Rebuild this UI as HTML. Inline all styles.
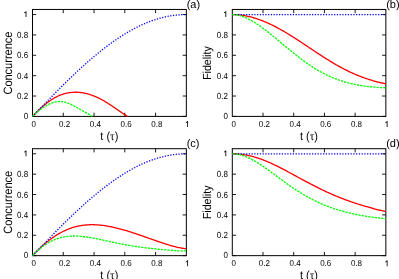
<!DOCTYPE html>
<html><head><meta charset="utf-8"><title>plot</title>
<style>
html,body{margin:0;padding:0;background:#fff;}
body{width:399px;height:279px;overflow:hidden;}
svg{display:block;text-rendering:geometricPrecision;will-change:transform;transform:translateZ(0);font-family:"Liberation Sans",sans-serif;fill:#000;}
</style></head><body>
<svg width="399" height="279" viewBox="0 0 399 279">
<rect x="0" y="0" width="399" height="279" fill="#fff"/>
<path d="M32.5,116.40 h3.7 M186.35,116.40 h-3.7 M63.27,116.4 v-3.7 M63.27,9.45 v3.7 M32.5,96.03 h3.7 M186.35,96.03 h-3.7 M94.04,116.4 v-3.7 M94.04,9.45 v3.7 M32.5,75.66 h3.7 M186.35,75.66 h-3.7 M124.81,116.4 v-3.7 M124.81,9.45 v3.7 M32.5,55.29 h3.7 M186.35,55.29 h-3.7 M155.58,116.4 v-3.7 M155.58,9.45 v3.7 M32.5,34.91 h3.7 M186.35,34.91 h-3.7 M32.5,14.54 h3.7 M186.35,14.54 h-3.7" fill="none" stroke="#000" stroke-width="0.9"/>
<rect x="32.5" y="9.45" width="153.85" height="106.95" fill="none" stroke="#000" stroke-width="1.0"/>
<path d="M32.50,116.40 L33.10,115.78 L33.70,115.16 L34.30,114.54 L34.90,113.93 L35.49,113.32 L36.09,112.71 L36.69,112.11 L37.29,111.52 L37.89,110.93 L38.49,110.34 L39.09,109.77 L39.69,109.20 L40.29,108.63 L40.89,108.08 L41.48,107.53 L42.08,106.99 L42.68,106.46 L43.28,105.93 L43.88,105.42 L44.48,104.91 L45.08,104.41 L45.68,103.92 L46.28,103.45 L46.87,102.98 L47.47,102.52 L48.07,102.07 L48.67,101.63 L49.27,101.20 L49.87,100.78 L50.47,100.37 L51.07,99.97 L51.67,99.58 L52.27,99.20 L52.86,98.83 L53.46,98.47 L54.06,98.13 L54.66,97.79 L55.26,97.46 L55.86,97.14 L56.46,96.84 L57.06,96.54 L57.66,96.25 L58.25,95.98 L58.85,95.71 L59.45,95.46 L60.05,95.21 L60.65,94.98 L61.25,94.75 L61.85,94.54 L62.45,94.33 L63.05,94.14 L63.65,93.95 L64.24,93.78 L64.84,93.61 L65.44,93.46 L66.04,93.31 L66.64,93.17 L67.24,93.05 L67.84,92.93 L68.44,92.82 L69.04,92.72 L69.63,92.63 L70.23,92.55 L70.83,92.48 L71.43,92.42 L72.03,92.36 L72.63,92.32 L73.23,92.28 L73.83,92.25 L74.43,92.23 L75.03,92.22 L75.62,92.22 L76.22,92.23 L76.82,92.24 L77.42,92.27 L78.02,92.30 L78.62,92.34 L79.22,92.39 L79.82,92.44 L80.42,92.51 L81.02,92.58 L81.61,92.66 L82.21,92.75 L82.81,92.84 L83.41,92.95 L84.01,93.06 L84.61,93.18 L85.21,93.30 L85.81,93.44 L86.41,93.58 L87.00,93.73 L87.60,93.89 L88.20,94.05 L88.80,94.22 L89.40,94.40 L90.00,94.59 L90.60,94.78 L91.20,94.99 L91.80,95.19 L92.40,95.41 L92.99,95.63 L93.59,95.86 L94.19,96.10 L94.79,96.34 L95.39,96.59 L95.99,96.85 L96.59,97.12 L97.19,97.39 L97.79,97.66 L98.38,97.95 L98.98,98.24 L99.58,98.54 L100.18,98.84 L100.78,99.15 L101.38,99.47 L101.98,99.79 L102.58,100.12 L103.18,100.45 L103.78,100.79 L104.37,101.14 L104.97,101.49 L105.57,101.84 L106.17,102.21 L106.77,102.57 L107.37,102.94 L107.97,103.32 L108.57,103.70 L109.17,104.09 L109.76,104.48 L110.36,104.87 L110.96,105.27 L111.56,105.67 L112.16,106.07 L112.76,106.48 L113.36,106.88 L113.96,107.30 L114.56,107.71 L115.16,108.12 L115.75,108.54 L116.35,108.96 L116.95,109.37 L117.55,109.79 L118.15,110.21 L118.75,110.63 L119.35,111.04 L119.95,111.46 L120.55,111.87 L121.14,112.28 L121.74,112.68 L122.34,113.08 L122.94,113.48 L123.54,113.87 L124.14,114.26 L124.74,114.64 L125.34,115.01 L125.94,115.38 L126.54,115.73 L127.13,116.08 L127.73,116.40" fill="none" stroke="#ff0000" stroke-width="1.3" stroke-linejoin="round"/>
<path d="M32.50,116.40 L33.27,115.60 L34.05,114.79 L34.82,113.99 L35.59,113.18 L36.37,112.38 L37.14,111.58 L37.91,110.77 L38.68,109.97 L39.46,109.17 L40.23,108.37 L41.00,107.57 L41.78,106.77 L42.55,105.97 L43.32,105.17 L44.10,104.37 L44.87,103.57 L45.64,102.77 L46.42,101.98 L47.19,101.18 L47.96,100.39 L48.74,99.59 L49.51,98.80 L50.28,98.01 L51.05,97.22 L51.83,96.43 L52.60,95.64 L53.37,94.86 L54.15,94.07 L54.92,93.29 L55.69,92.50 L56.47,91.72 L57.24,90.94 L58.01,90.17 L58.79,89.39 L59.56,88.62 L60.33,87.84 L61.11,87.07 L61.88,86.30 L62.65,85.54 L63.42,84.77 L64.20,84.01 L64.97,83.25 L65.74,82.49 L66.52,81.73 L67.29,80.98 L68.06,80.22 L68.84,79.47 L69.61,78.72 L70.38,77.98 L71.16,77.24 L71.93,76.49 L72.70,75.76 L73.48,75.02 L74.25,74.29 L75.02,73.56 L75.79,72.83 L76.57,72.10 L77.34,71.38 L78.11,70.66 L78.89,69.94 L79.66,69.23 L80.43,68.52 L81.21,67.81 L81.98,67.10 L82.75,66.40 L83.53,65.70 L84.30,65.01 L85.07,64.32 L85.84,63.63 L86.62,62.94 L87.39,62.26 L88.16,61.58 L88.94,60.90 L89.71,60.23 L90.48,59.56 L91.26,58.90 L92.03,58.23 L92.80,57.58 L93.58,56.92 L94.35,56.27 L95.12,55.62 L95.90,54.98 L96.67,54.34 L97.44,53.70 L98.21,53.07 L98.99,52.45 L99.76,51.82 L100.53,51.20 L101.31,50.59 L102.08,49.97 L102.85,49.37 L103.63,48.76 L104.40,48.16 L105.17,47.57 L105.95,46.98 L106.72,46.39 L107.49,45.81 L108.27,45.23 L109.04,44.66 L109.81,44.09 L110.58,43.53 L111.36,42.97 L112.13,42.41 L112.90,41.86 L113.68,41.32 L114.45,40.78 L115.22,40.24 L116.00,39.71 L116.77,39.18 L117.54,38.66 L118.32,38.14 L119.09,37.63 L119.86,37.12 L120.64,36.62 L121.41,36.12 L122.18,35.63 L122.95,35.14 L123.73,34.66 L124.50,34.19 L125.27,33.71 L126.05,33.25 L126.82,32.78 L127.59,32.33 L128.37,31.88 L129.14,31.43 L129.91,30.99 L130.69,30.55 L131.46,30.12 L132.23,29.70 L133.01,29.28 L133.78,28.87 L134.55,28.46 L135.32,28.06 L136.10,27.66 L136.87,27.27 L137.64,26.88 L138.42,26.50 L139.19,26.12 L139.96,25.75 L140.74,25.39 L141.51,25.03 L142.28,24.68 L143.06,24.33 L143.83,23.99 L144.60,23.66 L145.37,23.33 L146.15,23.00 L146.92,22.69 L147.69,22.37 L148.47,22.07 L149.24,21.77 L150.01,21.47 L150.79,21.18 L151.56,20.90 L152.33,20.62 L153.11,20.35 L153.88,20.09 L154.65,19.83 L155.43,19.58 L156.20,19.33 L156.97,19.09 L157.74,18.86 L158.52,18.63 L159.29,18.41 L160.06,18.19 L160.84,17.98 L161.61,17.77 L162.38,17.58 L163.16,17.39 L163.93,17.20 L164.70,17.02 L165.48,16.85 L166.25,16.68 L167.02,16.52 L167.80,16.37 L168.57,16.22 L169.34,16.07 L170.11,15.94 L170.89,15.81 L171.66,15.69 L172.43,15.57 L173.21,15.46 L173.98,15.35 L174.75,15.26 L175.53,15.16 L176.30,15.08 L177.07,15.00 L177.85,14.93 L178.62,14.86 L179.39,14.80 L180.17,14.75 L180.94,14.70 L181.71,14.66 L182.48,14.62 L183.26,14.59 L184.03,14.57 L184.80,14.56 L185.58,14.55 L186.35,14.54" fill="none" stroke="#0000ff" stroke-width="1.3" stroke-dasharray="1.25 1.5"/>
<path d="M32.50,116.40 L32.88,116.01 L33.25,115.63 L33.63,115.26 L34.01,114.90 L34.38,114.54 L34.76,114.19 L35.13,113.85 L35.51,113.51 L35.89,113.17 L36.26,112.84 L36.64,112.52 L37.02,112.20 L37.39,111.89 L37.77,111.58 L38.15,111.28 L38.52,110.98 L38.90,110.68 L39.28,110.39 L39.65,110.10 L40.03,109.81 L40.40,109.53 L40.78,109.26 L41.16,108.98 L41.53,108.71 L41.91,108.45 L42.29,108.19 L42.66,107.93 L43.04,107.67 L43.42,107.42 L43.79,107.18 L44.17,106.93 L44.54,106.69 L44.92,106.46 L45.30,106.23 L45.67,106.00 L46.05,105.78 L46.43,105.56 L46.80,105.35 L47.18,105.14 L47.56,104.94 L47.93,104.74 L48.31,104.55 L48.69,104.36 L49.06,104.17 L49.44,104.00 L49.81,103.82 L50.19,103.65 L50.57,103.49 L50.94,103.34 L51.32,103.19 L51.70,103.04 L52.07,102.90 L52.45,102.77 L52.83,102.65 L53.20,102.53 L53.58,102.41 L53.95,102.31 L54.33,102.20 L54.71,102.11 L55.08,102.02 L55.46,101.94 L55.84,101.87 L56.21,101.80 L56.59,101.74 L56.97,101.69 L57.34,101.65 L57.72,101.61 L58.10,101.57 L58.47,101.55 L58.85,101.53 L59.22,101.52 L59.60,101.52 L59.98,101.52 L60.35,101.53 L60.73,101.55 L61.11,101.58 L61.48,101.61 L61.86,101.65 L62.24,101.69 L62.61,101.74 L62.99,101.80 L63.36,101.87 L63.74,101.94 L64.12,102.02 L64.49,102.10 L64.87,102.19 L65.25,102.29 L65.62,102.39 L66.00,102.50 L66.38,102.62 L66.75,102.74 L67.13,102.87 L67.51,103.00 L67.88,103.14 L68.26,103.28 L68.63,103.42 L69.01,103.58 L69.39,103.73 L69.76,103.89 L70.14,104.06 L70.52,104.23 L70.89,104.40 L71.27,104.58 L71.65,104.76 L72.02,104.95 L72.40,105.13 L72.77,105.32 L73.15,105.52 L73.53,105.71 L73.90,105.91 L74.28,106.11 L74.66,106.32 L75.03,106.52 L75.41,106.73 L75.79,106.94 L76.16,107.15 L76.54,107.36 L76.92,107.57 L77.29,107.78 L77.67,107.99 L78.04,108.21 L78.42,108.42 L78.80,108.64 L79.17,108.85 L79.55,109.07 L79.93,109.28 L80.30,109.49 L80.68,109.71 L81.06,109.92 L81.43,110.14 L81.81,110.35 L82.18,110.56 L82.56,110.77 L82.94,110.98 L83.31,111.19 L83.69,111.40 L84.07,111.61 L84.44,111.82 L84.82,112.03 L85.20,112.24 L85.57,112.44 L85.95,112.65 L86.33,112.86 L86.70,113.07 L87.08,113.28 L87.45,113.48 L87.83,113.69 L88.21,113.90 L88.58,114.12 L88.96,114.33 L89.34,114.55 L89.71,114.76 L90.09,114.99 L90.47,115.21 L90.84,115.44 L91.22,115.67 L91.59,115.91 L91.97,116.16 L92.35,116.40" fill="none" stroke="#00ff00" stroke-width="1.3" stroke-dasharray="2.3 1.0"/>
<text transform="translate(28.10,119.10) scale(1,1.1)" text-anchor="end" font-size="8.0">0</text>
<text transform="translate(33.80,127.10) scale(1,1.075)" text-anchor="middle" font-size="8.0">0</text>
<text transform="translate(28.10,99.13) scale(1,1.1)" text-anchor="end" font-size="8.0">0.2</text>
<text transform="translate(64.57,127.10) scale(1,1.075)" text-anchor="middle" font-size="8.0">0.2</text>
<text transform="translate(28.10,78.76) scale(1,1.1)" text-anchor="end" font-size="8.0">0.4</text>
<text transform="translate(95.34,127.10) scale(1,1.075)" text-anchor="middle" font-size="8.0">0.4</text>
<text transform="translate(28.10,58.39) scale(1,1.1)" text-anchor="end" font-size="8.0">0.6</text>
<text transform="translate(126.11,127.10) scale(1,1.075)" text-anchor="middle" font-size="8.0">0.6</text>
<text transform="translate(28.10,38.01) scale(1,1.1)" text-anchor="end" font-size="8.0">0.8</text>
<text transform="translate(156.88,127.10) scale(1,1.075)" text-anchor="middle" font-size="8.0">0.8</text>
<path d="M26.45,16.89 L26.45,11.19 L25.75,11.19 Q25.30,12.19 24.15,12.54 L24.15,13.24 Q25.10,12.99 25.60,12.39 L25.60,16.89 Z" fill="#000"/>
<path d="M188.05,127.10 L188.05,121.10 L187.35,121.10 Q186.90,122.10 185.75,122.45 L185.75,123.15 Q186.70,122.90 187.20,122.30 L187.20,127.10 Z" fill="#000"/>
<text transform="translate(11.80,63.08) rotate(-90) scale(1,1.1)" text-anchor="middle" font-size="11">Concurrence</text>
<text transform="translate(109.33,139.70) scale(1,1.06)" text-anchor="middle" font-size="11.0">t (<tspan font-family="Liberation Serif" font-size="11.5">&#964;</tspan>)</text>
<text transform="translate(186.65,7.50) scale(1,1.0)" text-anchor="start" font-size="11.0">(a)</text>
<path d="M232.3,116.40 h3.7 M385.85,116.40 h-3.7 M263.01,116.4 v-3.7 M263.01,9.45 v3.7 M232.3,96.03 h3.7 M385.85,96.03 h-3.7 M293.72,116.4 v-3.7 M293.72,9.45 v3.7 M232.3,75.66 h3.7 M385.85,75.66 h-3.7 M324.43,116.4 v-3.7 M324.43,9.45 v3.7 M232.3,55.29 h3.7 M385.85,55.29 h-3.7 M355.14,116.4 v-3.7 M355.14,9.45 v3.7 M232.3,34.91 h3.7 M385.85,34.91 h-3.7 M232.3,14.54 h3.7 M385.85,14.54 h-3.7" fill="none" stroke="#000" stroke-width="0.9"/>
<rect x="232.3" y="9.45" width="153.55" height="106.95" fill="none" stroke="#000" stroke-width="1.0"/>
<path d="M232.30,14.54 L233.27,14.55 L234.23,14.57 L235.20,14.61 L236.16,14.66 L237.13,14.72 L238.09,14.80 L239.06,14.89 L240.03,14.99 L240.99,15.10 L241.96,15.23 L242.92,15.38 L243.89,15.53 L244.85,15.70 L245.82,15.88 L246.79,16.07 L247.75,16.28 L248.72,16.49 L249.68,16.72 L250.65,16.96 L251.61,17.21 L252.58,17.48 L253.55,17.75 L254.51,18.04 L255.48,18.34 L256.44,18.65 L257.41,18.96 L258.37,19.30 L259.34,19.64 L260.31,19.99 L261.27,20.35 L262.24,20.72 L263.20,21.10 L264.17,21.49 L265.13,21.89 L266.10,22.31 L267.07,22.73 L268.03,23.16 L269.00,23.60 L269.96,24.04 L270.93,24.50 L271.89,24.97 L272.86,25.44 L273.83,25.92 L274.79,26.41 L275.76,26.91 L276.72,27.42 L277.69,27.93 L278.65,28.45 L279.62,28.98 L280.59,29.52 L281.55,30.06 L282.52,30.61 L283.48,31.17 L284.45,31.73 L285.41,32.30 L286.38,32.87 L287.35,33.45 L288.31,34.04 L289.28,34.63 L290.24,35.23 L291.21,35.83 L292.17,36.43 L293.14,37.04 L294.11,37.66 L295.07,38.28 L296.04,38.90 L297.00,39.52 L297.97,40.15 L298.93,40.78 L299.90,41.41 L300.87,42.05 L301.83,42.69 L302.80,43.33 L303.76,43.97 L304.73,44.62 L305.69,45.26 L306.66,45.91 L307.63,46.55 L308.59,47.20 L309.56,47.84 L310.52,48.49 L311.49,49.14 L312.46,49.78 L313.42,50.43 L314.39,51.07 L315.35,51.71 L316.32,52.35 L317.28,52.99 L318.25,53.63 L319.22,54.26 L320.18,54.89 L321.15,55.52 L322.11,56.15 L323.08,56.77 L324.04,57.39 L325.01,58.00 L325.98,58.61 L326.94,59.22 L327.91,59.82 L328.87,60.42 L329.84,61.01 L330.80,61.60 L331.77,62.18 L332.74,62.76 L333.70,63.33 L334.67,63.89 L335.63,64.45 L336.60,65.01 L337.56,65.55 L338.53,66.10 L339.50,66.63 L340.46,67.16 L341.43,67.68 L342.39,68.20 L343.36,68.70 L344.32,69.21 L345.29,69.70 L346.26,70.19 L347.22,70.67 L348.19,71.14 L349.15,71.60 L350.12,72.06 L351.08,72.51 L352.05,72.95 L353.02,73.39 L353.98,73.82 L354.95,74.24 L355.91,74.65 L356.88,75.05 L357.84,75.45 L358.81,75.84 L359.78,76.22 L360.74,76.59 L361.71,76.96 L362.67,77.32 L363.64,77.67 L364.60,78.01 L365.57,78.35 L366.54,78.68 L367.50,79.00 L368.47,79.32 L369.43,79.62 L370.40,79.92 L371.36,80.22 L372.33,80.50 L373.30,80.78 L374.26,81.06 L375.23,81.32 L376.19,81.58 L377.16,81.83 L378.12,82.08 L379.09,82.32 L380.06,82.55 L381.02,82.78 L381.99,83.00 L382.95,83.21 L383.92,83.42 L384.88,83.63 L385.85,83.82" fill="none" stroke="#ff0000" stroke-width="1.3" stroke-linejoin="round"/>
<path d="M232.30,14.54 L233.07,14.54 L233.84,14.54 L234.61,14.54 L235.39,14.54 L236.16,14.54 L236.93,14.54 L237.70,14.54 L238.47,14.54 L239.24,14.54 L240.02,14.54 L240.79,14.54 L241.56,14.54 L242.33,14.54 L243.10,14.54 L243.87,14.54 L244.65,14.54 L245.42,14.54 L246.19,14.54 L246.96,14.54 L247.73,14.54 L248.50,14.54 L249.28,14.54 L250.05,14.54 L250.82,14.54 L251.59,14.54 L252.36,14.54 L253.13,14.54 L253.91,14.54 L254.68,14.54 L255.45,14.54 L256.22,14.54 L256.99,14.54 L257.76,14.54 L258.53,14.54 L259.31,14.54 L260.08,14.54 L260.85,14.54 L261.62,14.54 L262.39,14.54 L263.16,14.54 L263.94,14.54 L264.71,14.54 L265.48,14.54 L266.25,14.54 L267.02,14.54 L267.79,14.54 L268.57,14.54 L269.34,14.54 L270.11,14.54 L270.88,14.54 L271.65,14.54 L272.42,14.54 L273.20,14.54 L273.97,14.54 L274.74,14.54 L275.51,14.54 L276.28,14.54 L277.05,14.54 L277.82,14.54 L278.60,14.54 L279.37,14.54 L280.14,14.54 L280.91,14.54 L281.68,14.54 L282.45,14.54 L283.23,14.54 L284.00,14.54 L284.77,14.54 L285.54,14.54 L286.31,14.54 L287.08,14.54 L287.86,14.54 L288.63,14.54 L289.40,14.54 L290.17,14.54 L290.94,14.54 L291.71,14.54 L292.49,14.54 L293.26,14.54 L294.03,14.54 L294.80,14.54 L295.57,14.54 L296.34,14.54 L297.12,14.54 L297.89,14.54 L298.66,14.54 L299.43,14.54 L300.20,14.54 L300.97,14.54 L301.74,14.54 L302.52,14.54 L303.29,14.54 L304.06,14.54 L304.83,14.54 L305.60,14.54 L306.37,14.54 L307.15,14.54 L307.92,14.54 L308.69,14.54 L309.46,14.54 L310.23,14.54 L311.00,14.54 L311.78,14.54 L312.55,14.54 L313.32,14.54 L314.09,14.54 L314.86,14.54 L315.63,14.54 L316.41,14.54 L317.18,14.54 L317.95,14.54 L318.72,14.54 L319.49,14.54 L320.26,14.54 L321.03,14.54 L321.81,14.54 L322.58,14.54 L323.35,14.54 L324.12,14.54 L324.89,14.54 L325.66,14.54 L326.44,14.54 L327.21,14.54 L327.98,14.54 L328.75,14.54 L329.52,14.54 L330.29,14.54 L331.07,14.54 L331.84,14.54 L332.61,14.54 L333.38,14.54 L334.15,14.54 L334.92,14.54 L335.70,14.54 L336.47,14.54 L337.24,14.54 L338.01,14.54 L338.78,14.54 L339.55,14.54 L340.33,14.54 L341.10,14.54 L341.87,14.54 L342.64,14.54 L343.41,14.54 L344.18,14.54 L344.95,14.54 L345.73,14.54 L346.50,14.54 L347.27,14.54 L348.04,14.54 L348.81,14.54 L349.58,14.54 L350.36,14.54 L351.13,14.54 L351.90,14.54 L352.67,14.54 L353.44,14.54 L354.21,14.54 L354.99,14.54 L355.76,14.54 L356.53,14.54 L357.30,14.54 L358.07,14.54 L358.84,14.54 L359.62,14.54 L360.39,14.54 L361.16,14.54 L361.93,14.54 L362.70,14.54 L363.47,14.54 L364.24,14.54 L365.02,14.54 L365.79,14.54 L366.56,14.54 L367.33,14.54 L368.10,14.54 L368.87,14.54 L369.65,14.54 L370.42,14.54 L371.19,14.54 L371.96,14.54 L372.73,14.54 L373.50,14.54 L374.28,14.54 L375.05,14.54 L375.82,14.54 L376.59,14.54 L377.36,14.54 L378.13,14.54 L378.91,14.54 L379.68,14.54 L380.45,14.54 L381.22,14.54 L381.99,14.54 L382.76,14.54 L383.54,14.54 L384.31,14.54 L385.08,14.54 L385.85,14.54" fill="none" stroke="#0000ff" stroke-width="1.3" stroke-dasharray="1.25 1.5"/>
<path d="M232.30,14.54 L233.27,14.56 L234.23,14.62 L235.20,14.70 L236.16,14.83 L237.13,14.99 L238.09,15.17 L239.06,15.39 L240.03,15.64 L240.99,15.92 L241.96,16.23 L242.92,16.57 L243.89,16.93 L244.85,17.32 L245.82,17.73 L246.79,18.17 L247.75,18.63 L248.72,19.11 L249.68,19.61 L250.65,20.13 L251.61,20.67 L252.58,21.23 L253.55,21.81 L254.51,22.41 L255.48,23.02 L256.44,23.64 L257.41,24.29 L258.37,24.94 L259.34,25.61 L260.31,26.29 L261.27,26.98 L262.24,27.69 L263.20,28.40 L264.17,29.12 L265.13,29.86 L266.10,30.60 L267.07,31.35 L268.03,32.11 L269.00,32.87 L269.96,33.64 L270.93,34.42 L271.89,35.20 L272.86,35.99 L273.83,36.78 L274.79,37.57 L275.76,38.37 L276.72,39.17 L277.69,39.97 L278.65,40.77 L279.62,41.58 L280.59,42.38 L281.55,43.19 L282.52,43.99 L283.48,44.80 L284.45,45.60 L285.41,46.41 L286.38,47.21 L287.35,48.01 L288.31,48.80 L289.28,49.59 L290.24,50.38 L291.21,51.17 L292.17,51.95 L293.14,52.73 L294.11,53.50 L295.07,54.27 L296.04,55.03 L297.00,55.79 L297.97,56.54 L298.93,57.28 L299.90,58.02 L300.87,58.75 L301.83,59.48 L302.80,60.19 L303.76,60.90 L304.73,61.60 L305.69,62.29 L306.66,62.97 L307.63,63.65 L308.59,64.31 L309.56,64.97 L310.52,65.62 L311.49,66.26 L312.46,66.88 L313.42,67.50 L314.39,68.11 L315.35,68.71 L316.32,69.30 L317.28,69.88 L318.25,70.44 L319.22,71.00 L320.18,71.55 L321.15,72.08 L322.11,72.61 L323.08,73.12 L324.04,73.63 L325.01,74.12 L325.98,74.60 L326.94,75.08 L327.91,75.54 L328.87,75.99 L329.84,76.43 L330.80,76.86 L331.77,77.28 L332.74,77.69 L333.70,78.08 L334.67,78.47 L335.63,78.85 L336.60,79.22 L337.56,79.57 L338.53,79.92 L339.50,80.26 L340.46,80.59 L341.43,80.91 L342.39,81.21 L343.36,81.51 L344.32,81.81 L345.29,82.09 L346.26,82.36 L347.22,82.62 L348.19,82.88 L349.15,83.13 L350.12,83.37 L351.08,83.60 L352.05,83.82 L353.02,84.03 L353.98,84.24 L354.95,84.44 L355.91,84.63 L356.88,84.82 L357.84,85.00 L358.81,85.17 L359.78,85.34 L360.74,85.50 L361.71,85.65 L362.67,85.80 L363.64,85.94 L364.60,86.07 L365.57,86.20 L366.54,86.32 L367.50,86.44 L368.47,86.55 L369.43,86.66 L370.40,86.76 L371.36,86.86 L372.33,86.95 L373.30,87.04 L374.26,87.13 L375.23,87.20 L376.19,87.28 L377.16,87.35 L378.12,87.41 L379.09,87.47 L380.06,87.53 L381.02,87.58 L381.99,87.63 L382.95,87.68 L383.92,87.72 L384.88,87.75 L385.85,87.79" fill="none" stroke="#00ff00" stroke-width="1.3" stroke-dasharray="2.3 1.0"/>
<text transform="translate(227.90,119.10) scale(1,1.1)" text-anchor="end" font-size="8.0">0</text>
<text transform="translate(233.60,127.10) scale(1,1.075)" text-anchor="middle" font-size="8.0">0</text>
<text transform="translate(227.90,99.13) scale(1,1.1)" text-anchor="end" font-size="8.0">0.2</text>
<text transform="translate(264.31,127.10) scale(1,1.075)" text-anchor="middle" font-size="8.0">0.2</text>
<text transform="translate(227.90,78.76) scale(1,1.1)" text-anchor="end" font-size="8.0">0.4</text>
<text transform="translate(295.02,127.10) scale(1,1.075)" text-anchor="middle" font-size="8.0">0.4</text>
<text transform="translate(227.90,58.39) scale(1,1.1)" text-anchor="end" font-size="8.0">0.6</text>
<text transform="translate(325.73,127.10) scale(1,1.075)" text-anchor="middle" font-size="8.0">0.6</text>
<text transform="translate(227.90,38.01) scale(1,1.1)" text-anchor="end" font-size="8.0">0.8</text>
<text transform="translate(356.44,127.10) scale(1,1.075)" text-anchor="middle" font-size="8.0">0.8</text>
<path d="M226.25,16.89 L226.25,11.19 L225.55,11.19 Q225.10,12.19 223.95,12.54 L223.95,13.24 Q224.90,12.99 225.40,12.39 L225.40,16.89 Z" fill="#000"/>
<path d="M387.55,127.10 L387.55,121.10 L386.85,121.10 Q386.40,122.10 385.25,122.45 L385.25,123.15 Q386.20,122.90 386.70,122.30 L386.70,127.10 Z" fill="#000"/>
<text transform="translate(211.40,63.08) rotate(-90) scale(1,1.1)" text-anchor="middle" font-size="10.6">Fidelity</text>
<text transform="translate(308.98,139.70) scale(1,1.06)" text-anchor="middle" font-size="11.0">t (<tspan font-family="Liberation Serif" font-size="11.5">&#964;</tspan>)</text>
<text transform="translate(386.15,7.50) scale(1,1.0)" text-anchor="start" font-size="11.0">(b)</text>
<path d="M32.5,255.65 h3.7 M186.35,255.65 h-3.7 M63.27,255.65 v-3.7 M63.27,148.7 v3.7 M32.5,235.28 h3.7 M186.35,235.28 h-3.7 M94.04,255.65 v-3.7 M94.04,148.7 v3.7 M32.5,214.91 h3.7 M186.35,214.91 h-3.7 M124.81,255.65 v-3.7 M124.81,148.7 v3.7 M32.5,194.54 h3.7 M186.35,194.54 h-3.7 M155.58,255.65 v-3.7 M155.58,148.7 v3.7 M32.5,174.16 h3.7 M186.35,174.16 h-3.7 M32.5,153.79 h3.7 M186.35,153.79 h-3.7" fill="none" stroke="#000" stroke-width="0.9"/>
<rect x="32.5" y="148.7" width="153.85" height="106.95" fill="none" stroke="#000" stroke-width="1.0"/>
<path d="M32.50,255.65 L33.47,254.65 L34.44,253.66 L35.40,252.68 L36.37,251.71 L37.34,250.76 L38.31,249.82 L39.27,248.89 L40.24,247.98 L41.21,247.09 L42.18,246.21 L43.14,245.34 L44.11,244.49 L45.08,243.66 L46.05,242.84 L47.01,242.05 L47.98,241.26 L48.95,240.50 L49.92,239.76 L50.88,239.03 L51.85,238.32 L52.82,237.63 L53.79,236.96 L54.76,236.31 L55.72,235.67 L56.69,235.06 L57.66,234.46 L58.63,233.88 L59.59,233.32 L60.56,232.78 L61.53,232.26 L62.50,231.76 L63.46,231.27 L64.43,230.81 L65.40,230.36 L66.37,229.93 L67.33,229.52 L68.30,229.13 L69.27,228.76 L70.24,228.40 L71.20,228.06 L72.17,227.74 L73.14,227.44 L74.11,227.16 L75.07,226.89 L76.04,226.63 L77.01,226.40 L77.98,226.18 L78.95,225.98 L79.91,225.79 L80.88,225.62 L81.85,225.47 L82.82,225.33 L83.78,225.20 L84.75,225.09 L85.72,224.99 L86.69,224.91 L87.65,224.85 L88.62,224.79 L89.59,224.75 L90.56,224.72 L91.52,224.71 L92.49,224.71 L93.46,224.72 L94.43,224.74 L95.39,224.78 L96.36,224.83 L97.33,224.88 L98.30,224.95 L99.27,225.03 L100.23,225.12 L101.20,225.23 L102.17,225.34 L103.14,225.46 L104.10,225.59 L105.07,225.73 L106.04,225.88 L107.01,226.04 L107.97,226.20 L108.94,226.38 L109.91,226.56 L110.88,226.75 L111.84,226.95 L112.81,227.16 L113.78,227.37 L114.75,227.59 L115.71,227.82 L116.68,228.05 L117.65,228.29 L118.62,228.54 L119.58,228.79 L120.55,229.05 L121.52,229.31 L122.49,229.58 L123.46,229.85 L124.42,230.13 L125.39,230.41 L126.36,230.70 L127.33,230.99 L128.29,231.29 L129.26,231.59 L130.23,231.89 L131.20,232.20 L132.16,232.51 L133.13,232.82 L134.10,233.14 L135.07,233.46 L136.03,233.78 L137.00,234.11 L137.97,234.44 L138.94,234.77 L139.90,235.10 L140.87,235.43 L141.84,235.77 L142.81,236.11 L143.78,236.44 L144.74,236.78 L145.71,237.12 L146.68,237.46 L147.65,237.81 L148.61,238.15 L149.58,238.49 L150.55,238.83 L151.52,239.17 L152.48,239.51 L153.45,239.85 L154.42,240.19 L155.39,240.53 L156.35,240.87 L157.32,241.20 L158.29,241.54 L159.26,241.87 L160.22,242.20 L161.19,242.52 L162.16,242.85 L163.13,243.17 L164.09,243.48 L165.06,243.80 L166.03,244.10 L167.00,244.41 L167.97,244.70 L168.93,245.00 L169.90,245.28 L170.87,245.56 L171.84,245.84 L172.80,246.10 L173.77,246.36 L174.74,246.61 L175.71,246.86 L176.67,247.09 L177.64,247.31 L178.61,247.52 L179.58,247.73 L180.54,247.92 L181.51,248.10 L182.48,248.26 L183.45,248.41 L184.41,248.55 L185.38,248.68 L186.35,248.78" fill="none" stroke="#ff0000" stroke-width="1.3" stroke-linejoin="round"/>
<path d="M32.50,255.65 L33.27,254.85 L34.05,254.04 L34.82,253.24 L35.59,252.43 L36.37,251.63 L37.14,250.83 L37.91,250.02 L38.68,249.22 L39.46,248.42 L40.23,247.62 L41.00,246.82 L41.78,246.02 L42.55,245.22 L43.32,244.42 L44.10,243.62 L44.87,242.82 L45.64,242.02 L46.42,241.23 L47.19,240.43 L47.96,239.64 L48.74,238.84 L49.51,238.05 L50.28,237.26 L51.05,236.47 L51.83,235.68 L52.60,234.89 L53.37,234.11 L54.15,233.32 L54.92,232.54 L55.69,231.75 L56.47,230.97 L57.24,230.19 L58.01,229.42 L58.79,228.64 L59.56,227.87 L60.33,227.09 L61.11,226.32 L61.88,225.55 L62.65,224.79 L63.42,224.02 L64.20,223.26 L64.97,222.50 L65.74,221.74 L66.52,220.98 L67.29,220.23 L68.06,219.47 L68.84,218.72 L69.61,217.97 L70.38,217.23 L71.16,216.49 L71.93,215.74 L72.70,215.01 L73.48,214.27 L74.25,213.54 L75.02,212.81 L75.79,212.08 L76.57,211.35 L77.34,210.63 L78.11,209.91 L78.89,209.19 L79.66,208.48 L80.43,207.77 L81.21,207.06 L81.98,206.35 L82.75,205.65 L83.53,204.95 L84.30,204.26 L85.07,203.57 L85.84,202.88 L86.62,202.19 L87.39,201.51 L88.16,200.83 L88.94,200.15 L89.71,199.48 L90.48,198.81 L91.26,198.15 L92.03,197.48 L92.80,196.83 L93.58,196.17 L94.35,195.52 L95.12,194.87 L95.90,194.23 L96.67,193.59 L97.44,192.95 L98.21,192.32 L98.99,191.70 L99.76,191.07 L100.53,190.45 L101.31,189.84 L102.08,189.22 L102.85,188.62 L103.63,188.01 L104.40,187.41 L105.17,186.82 L105.95,186.23 L106.72,185.64 L107.49,185.06 L108.27,184.48 L109.04,183.91 L109.81,183.34 L110.58,182.78 L111.36,182.22 L112.13,181.66 L112.90,181.11 L113.68,180.57 L114.45,180.03 L115.22,179.49 L116.00,178.96 L116.77,178.43 L117.54,177.91 L118.32,177.39 L119.09,176.88 L119.86,176.37 L120.64,175.87 L121.41,175.37 L122.18,174.88 L122.95,174.39 L123.73,173.91 L124.50,173.44 L125.27,172.96 L126.05,172.50 L126.82,172.03 L127.59,171.58 L128.37,171.13 L129.14,170.68 L129.91,170.24 L130.69,169.80 L131.46,169.37 L132.23,168.95 L133.01,168.53 L133.78,168.12 L134.55,167.71 L135.32,167.31 L136.10,166.91 L136.87,166.52 L137.64,166.13 L138.42,165.75 L139.19,165.37 L139.96,165.00 L140.74,164.64 L141.51,164.28 L142.28,163.93 L143.06,163.58 L143.83,163.24 L144.60,162.91 L145.37,162.58 L146.15,162.25 L146.92,161.94 L147.69,161.62 L148.47,161.32 L149.24,161.02 L150.01,160.72 L150.79,160.43 L151.56,160.15 L152.33,159.87 L153.11,159.60 L153.88,159.34 L154.65,159.08 L155.43,158.83 L156.20,158.58 L156.97,158.34 L157.74,158.11 L158.52,157.88 L159.29,157.66 L160.06,157.44 L160.84,157.23 L161.61,157.02 L162.38,156.83 L163.16,156.64 L163.93,156.45 L164.70,156.27 L165.48,156.10 L166.25,155.93 L167.02,155.77 L167.80,155.62 L168.57,155.47 L169.34,155.32 L170.11,155.19 L170.89,155.06 L171.66,154.94 L172.43,154.82 L173.21,154.71 L173.98,154.60 L174.75,154.51 L175.53,154.41 L176.30,154.33 L177.07,154.25 L177.85,154.18 L178.62,154.11 L179.39,154.05 L180.17,154.00 L180.94,153.95 L181.71,153.91 L182.48,153.87 L183.26,153.84 L184.03,153.82 L184.80,153.81 L185.58,153.80 L186.35,153.79" fill="none" stroke="#0000ff" stroke-width="1.3" stroke-dasharray="1.25 1.5"/>
<path d="M32.50,255.65 L33.47,254.66 L34.44,253.69 L35.40,252.75 L36.37,251.84 L37.34,250.95 L38.31,250.10 L39.27,249.27 L40.24,248.46 L41.21,247.69 L42.18,246.94 L43.14,246.22 L44.11,245.53 L45.08,244.86 L46.05,244.22 L47.01,243.61 L47.98,243.03 L48.95,242.47 L49.92,241.94 L50.88,241.43 L51.85,240.95 L52.82,240.49 L53.79,240.06 L54.76,239.65 L55.72,239.27 L56.69,238.91 L57.66,238.58 L58.63,238.27 L59.59,237.98 L60.56,237.71 L61.53,237.46 L62.50,237.24 L63.46,237.03 L64.43,236.85 L65.40,236.69 L66.37,236.54 L67.33,236.42 L68.30,236.31 L69.27,236.22 L70.24,236.14 L71.20,236.09 L72.17,236.04 L73.14,236.02 L74.11,236.01 L75.07,236.01 L76.04,236.03 L77.01,236.06 L77.98,236.11 L78.95,236.16 L79.91,236.23 L80.88,236.31 L81.85,236.40 L82.82,236.50 L83.78,236.61 L84.75,236.73 L85.72,236.86 L86.69,236.99 L87.65,237.14 L88.62,237.29 L89.59,237.45 L90.56,237.61 L91.52,237.78 L92.49,237.96 L93.46,238.14 L94.43,238.33 L95.39,238.51 L96.36,238.71 L97.33,238.91 L98.30,239.11 L99.27,239.31 L100.23,239.51 L101.20,239.72 L102.17,239.93 L103.14,240.14 L104.10,240.35 L105.07,240.56 L106.04,240.77 L107.01,240.98 L107.97,241.19 L108.94,241.40 L109.91,241.62 L110.88,241.82 L111.84,242.03 L112.81,242.24 L113.78,242.45 L114.75,242.65 L115.71,242.85 L116.68,243.05 L117.65,243.25 L118.62,243.44 L119.58,243.64 L120.55,243.83 L121.52,244.02 L122.49,244.20 L123.46,244.38 L124.42,244.56 L125.39,244.74 L126.36,244.92 L127.33,245.09 L128.29,245.25 L129.26,245.42 L130.23,245.58 L131.20,245.74 L132.16,245.90 L133.13,246.05 L134.10,246.20 L135.07,246.35 L136.03,246.49 L137.00,246.63 L137.97,246.77 L138.94,246.91 L139.90,247.04 L140.87,247.17 L141.84,247.30 L142.81,247.43 L143.78,247.55 L144.74,247.67 L145.71,247.79 L146.68,247.91 L147.65,248.02 L148.61,248.14 L149.58,248.25 L150.55,248.36 L151.52,248.47 L152.48,248.57 L153.45,248.68 L154.42,248.78 L155.39,248.88 L156.35,248.98 L157.32,249.08 L158.29,249.18 L159.26,249.27 L160.22,249.37 L161.19,249.46 L162.16,249.55 L163.13,249.64 L164.09,249.73 L165.06,249.82 L166.03,249.90 L167.00,249.99 L167.97,250.07 L168.93,250.15 L169.90,250.23 L170.87,250.30 L171.84,250.37 L172.80,250.45 L173.77,250.51 L174.74,250.58 L175.71,250.64 L176.67,250.70 L177.64,250.75 L178.61,250.80 L179.58,250.84 L180.54,250.88 L181.51,250.91 L182.48,250.94 L183.45,250.95 L184.41,250.97 L185.38,250.97 L186.35,250.96" fill="none" stroke="#00ff00" stroke-width="1.3" stroke-dasharray="2.3 1.0"/>
<text transform="translate(28.10,258.35) scale(1,1.1)" text-anchor="end" font-size="8.0">0</text>
<text transform="translate(33.80,266.35) scale(1,1.075)" text-anchor="middle" font-size="8.0">0</text>
<text transform="translate(28.10,238.38) scale(1,1.1)" text-anchor="end" font-size="8.0">0.2</text>
<text transform="translate(64.57,266.35) scale(1,1.075)" text-anchor="middle" font-size="8.0">0.2</text>
<text transform="translate(28.10,218.01) scale(1,1.1)" text-anchor="end" font-size="8.0">0.4</text>
<text transform="translate(95.34,266.35) scale(1,1.075)" text-anchor="middle" font-size="8.0">0.4</text>
<text transform="translate(28.10,197.64) scale(1,1.1)" text-anchor="end" font-size="8.0">0.6</text>
<text transform="translate(126.11,266.35) scale(1,1.075)" text-anchor="middle" font-size="8.0">0.6</text>
<text transform="translate(28.10,177.26) scale(1,1.1)" text-anchor="end" font-size="8.0">0.8</text>
<text transform="translate(156.88,266.35) scale(1,1.075)" text-anchor="middle" font-size="8.0">0.8</text>
<path d="M26.45,156.14 L26.45,150.44 L25.75,150.44 Q25.30,151.44 24.15,151.79 L24.15,152.49 Q25.10,152.24 25.60,151.64 L25.60,156.14 Z" fill="#000"/>
<path d="M188.05,266.35 L188.05,260.35 L187.35,260.35 Q186.90,261.35 185.75,261.70 L185.75,262.40 Q186.70,262.15 187.20,261.55 L187.20,266.35 Z" fill="#000"/>
<text transform="translate(11.80,202.33) rotate(-90) scale(1,1.1)" text-anchor="middle" font-size="11">Concurrence</text>
<text transform="translate(109.33,278.95) scale(1,1.06)" text-anchor="middle" font-size="11.0">t (<tspan font-family="Liberation Serif" font-size="11.5">&#964;</tspan>)</text>
<text transform="translate(186.65,146.75) scale(1,1.0)" text-anchor="start" font-size="11.0">(c)</text>
<path d="M232.3,255.65 h3.7 M385.85,255.65 h-3.7 M263.01,255.65 v-3.7 M263.01,148.7 v3.7 M232.3,235.28 h3.7 M385.85,235.28 h-3.7 M293.72,255.65 v-3.7 M293.72,148.7 v3.7 M232.3,214.91 h3.7 M385.85,214.91 h-3.7 M324.43,255.65 v-3.7 M324.43,148.7 v3.7 M232.3,194.54 h3.7 M385.85,194.54 h-3.7 M355.14,255.65 v-3.7 M355.14,148.7 v3.7 M232.3,174.16 h3.7 M385.85,174.16 h-3.7 M232.3,153.79 h3.7 M385.85,153.79 h-3.7" fill="none" stroke="#000" stroke-width="0.9"/>
<rect x="232.3" y="148.7" width="153.55" height="106.95" fill="none" stroke="#000" stroke-width="1.0"/>
<path d="M232.30,153.79 L233.27,153.80 L234.23,153.82 L235.20,153.85 L236.16,153.89 L237.13,153.94 L238.09,154.01 L239.06,154.09 L240.03,154.18 L240.99,154.28 L241.96,154.40 L242.92,154.52 L243.89,154.66 L244.85,154.82 L245.82,154.98 L246.79,155.16 L247.75,155.35 L248.72,155.55 L249.68,155.77 L250.65,155.99 L251.61,156.23 L252.58,156.48 L253.55,156.74 L254.51,157.01 L255.48,157.30 L256.44,157.59 L257.41,157.90 L258.37,158.21 L259.34,158.54 L260.31,158.88 L261.27,159.22 L262.24,159.58 L263.20,159.95 L264.17,160.32 L265.13,160.71 L266.10,161.10 L267.07,161.50 L268.03,161.91 L269.00,162.33 L269.96,162.76 L270.93,163.19 L271.89,163.63 L272.86,164.08 L273.83,164.54 L274.79,165.00 L275.76,165.46 L276.72,165.94 L277.69,166.41 L278.65,166.90 L279.62,167.39 L280.59,167.88 L281.55,168.38 L282.52,168.88 L283.48,169.38 L284.45,169.89 L285.41,170.40 L286.38,170.91 L287.35,171.43 L288.31,171.95 L289.28,172.47 L290.24,172.99 L291.21,173.52 L292.17,174.04 L293.14,174.57 L294.11,175.09 L295.07,175.62 L296.04,176.15 L297.00,176.68 L297.97,177.20 L298.93,177.73 L299.90,178.26 L300.87,178.78 L301.83,179.31 L302.80,179.83 L303.76,180.35 L304.73,180.87 L305.69,181.39 L306.66,181.90 L307.63,182.42 L308.59,182.93 L309.56,183.44 L310.52,183.95 L311.49,184.45 L312.46,184.95 L313.42,185.45 L314.39,185.94 L315.35,186.43 L316.32,186.92 L317.28,187.41 L318.25,187.89 L319.22,188.36 L320.18,188.84 L321.15,189.31 L322.11,189.77 L323.08,190.23 L324.04,190.69 L325.01,191.14 L325.98,191.59 L326.94,192.04 L327.91,192.48 L328.87,192.92 L329.84,193.35 L330.80,193.78 L331.77,194.20 L332.74,194.62 L333.70,195.03 L334.67,195.44 L335.63,195.85 L336.60,196.25 L337.56,196.65 L338.53,197.04 L339.50,197.43 L340.46,197.81 L341.43,198.19 L342.39,198.57 L343.36,198.94 L344.32,199.30 L345.29,199.67 L346.26,200.02 L347.22,200.38 L348.19,200.73 L349.15,201.07 L350.12,201.41 L351.08,201.75 L352.05,202.08 L353.02,202.41 L353.98,202.74 L354.95,203.06 L355.91,203.38 L356.88,203.69 L357.84,204.00 L358.81,204.31 L359.78,204.61 L360.74,204.91 L361.71,205.20 L362.67,205.50 L363.64,205.79 L364.60,206.07 L365.57,206.35 L366.54,206.63 L367.50,206.91 L368.47,207.18 L369.43,207.45 L370.40,207.72 L371.36,207.98 L372.33,208.25 L373.30,208.51 L374.26,208.76 L375.23,209.02 L376.19,209.27 L377.16,209.52 L378.12,209.76 L379.09,210.01 L380.06,210.25 L381.02,210.49 L381.99,210.73 L382.95,210.97 L383.92,211.20 L384.88,211.43 L385.85,211.66" fill="none" stroke="#ff0000" stroke-width="1.3" stroke-linejoin="round"/>
<path d="M232.30,153.79 L233.07,153.79 L233.84,153.79 L234.61,153.79 L235.39,153.79 L236.16,153.79 L236.93,153.79 L237.70,153.79 L238.47,153.79 L239.24,153.79 L240.02,153.79 L240.79,153.79 L241.56,153.79 L242.33,153.79 L243.10,153.79 L243.87,153.79 L244.65,153.79 L245.42,153.79 L246.19,153.79 L246.96,153.79 L247.73,153.79 L248.50,153.79 L249.28,153.79 L250.05,153.79 L250.82,153.79 L251.59,153.79 L252.36,153.79 L253.13,153.79 L253.91,153.79 L254.68,153.79 L255.45,153.79 L256.22,153.79 L256.99,153.79 L257.76,153.79 L258.53,153.79 L259.31,153.79 L260.08,153.79 L260.85,153.79 L261.62,153.79 L262.39,153.79 L263.16,153.79 L263.94,153.79 L264.71,153.79 L265.48,153.79 L266.25,153.79 L267.02,153.79 L267.79,153.79 L268.57,153.79 L269.34,153.79 L270.11,153.79 L270.88,153.79 L271.65,153.79 L272.42,153.79 L273.20,153.79 L273.97,153.79 L274.74,153.79 L275.51,153.79 L276.28,153.79 L277.05,153.79 L277.82,153.79 L278.60,153.79 L279.37,153.79 L280.14,153.79 L280.91,153.79 L281.68,153.79 L282.45,153.79 L283.23,153.79 L284.00,153.79 L284.77,153.79 L285.54,153.79 L286.31,153.79 L287.08,153.79 L287.86,153.79 L288.63,153.79 L289.40,153.79 L290.17,153.79 L290.94,153.79 L291.71,153.79 L292.49,153.79 L293.26,153.79 L294.03,153.79 L294.80,153.79 L295.57,153.79 L296.34,153.79 L297.12,153.79 L297.89,153.79 L298.66,153.79 L299.43,153.79 L300.20,153.79 L300.97,153.79 L301.74,153.79 L302.52,153.79 L303.29,153.79 L304.06,153.79 L304.83,153.79 L305.60,153.79 L306.37,153.79 L307.15,153.79 L307.92,153.79 L308.69,153.79 L309.46,153.79 L310.23,153.79 L311.00,153.79 L311.78,153.79 L312.55,153.79 L313.32,153.79 L314.09,153.79 L314.86,153.79 L315.63,153.79 L316.41,153.79 L317.18,153.79 L317.95,153.79 L318.72,153.79 L319.49,153.79 L320.26,153.79 L321.03,153.79 L321.81,153.79 L322.58,153.79 L323.35,153.79 L324.12,153.79 L324.89,153.79 L325.66,153.79 L326.44,153.79 L327.21,153.79 L327.98,153.79 L328.75,153.79 L329.52,153.79 L330.29,153.79 L331.07,153.79 L331.84,153.79 L332.61,153.79 L333.38,153.79 L334.15,153.79 L334.92,153.79 L335.70,153.79 L336.47,153.79 L337.24,153.79 L338.01,153.79 L338.78,153.79 L339.55,153.79 L340.33,153.79 L341.10,153.79 L341.87,153.79 L342.64,153.79 L343.41,153.79 L344.18,153.79 L344.95,153.79 L345.73,153.79 L346.50,153.79 L347.27,153.79 L348.04,153.79 L348.81,153.79 L349.58,153.79 L350.36,153.79 L351.13,153.79 L351.90,153.79 L352.67,153.79 L353.44,153.79 L354.21,153.79 L354.99,153.79 L355.76,153.79 L356.53,153.79 L357.30,153.79 L358.07,153.79 L358.84,153.79 L359.62,153.79 L360.39,153.79 L361.16,153.79 L361.93,153.79 L362.70,153.79 L363.47,153.79 L364.24,153.79 L365.02,153.79 L365.79,153.79 L366.56,153.79 L367.33,153.79 L368.10,153.79 L368.87,153.79 L369.65,153.79 L370.42,153.79 L371.19,153.79 L371.96,153.79 L372.73,153.79 L373.50,153.79 L374.28,153.79 L375.05,153.79 L375.82,153.79 L376.59,153.79 L377.36,153.79 L378.13,153.79 L378.91,153.79 L379.68,153.79 L380.45,153.79 L381.22,153.79 L381.99,153.79 L382.76,153.79 L383.54,153.79 L384.31,153.79 L385.08,153.79 L385.85,153.79" fill="none" stroke="#0000ff" stroke-width="1.3" stroke-dasharray="1.25 1.5"/>
<path d="M232.30,153.79 L233.27,153.81 L234.23,153.85 L235.20,153.93 L236.16,154.04 L237.13,154.17 L238.09,154.34 L239.06,154.53 L240.03,154.75 L240.99,155.00 L241.96,155.27 L242.92,155.57 L243.89,155.90 L244.85,156.25 L245.82,156.62 L246.79,157.02 L247.75,157.43 L248.72,157.87 L249.68,158.33 L250.65,158.81 L251.61,159.30 L252.58,159.82 L253.55,160.35 L254.51,160.90 L255.48,161.46 L256.44,162.04 L257.41,162.64 L258.37,163.24 L259.34,163.86 L260.31,164.49 L261.27,165.13 L262.24,165.78 L263.20,166.44 L264.17,167.11 L265.13,167.78 L266.10,168.47 L267.07,169.15 L268.03,169.85 L269.00,170.55 L269.96,171.25 L270.93,171.96 L271.89,172.67 L272.86,173.38 L273.83,174.10 L274.79,174.81 L275.76,175.53 L276.72,176.25 L277.69,176.96 L278.65,177.68 L279.62,178.39 L280.59,179.10 L281.55,179.81 L282.52,180.52 L283.48,181.22 L284.45,181.92 L285.41,182.62 L286.38,183.31 L287.35,184.00 L288.31,184.68 L289.28,185.35 L290.24,186.03 L291.21,186.69 L292.17,187.35 L293.14,188.00 L294.11,188.65 L295.07,189.29 L296.04,189.92 L297.00,190.55 L297.97,191.17 L298.93,191.78 L299.90,192.38 L300.87,192.98 L301.83,193.57 L302.80,194.15 L303.76,194.72 L304.73,195.29 L305.69,195.85 L306.66,196.39 L307.63,196.94 L308.59,197.47 L309.56,197.99 L310.52,198.51 L311.49,199.02 L312.46,199.52 L313.42,200.01 L314.39,200.49 L315.35,200.97 L316.32,201.43 L317.28,201.89 L318.25,202.35 L319.22,202.79 L320.18,203.22 L321.15,203.65 L322.11,204.07 L323.08,204.48 L324.04,204.89 L325.01,205.28 L325.98,205.67 L326.94,206.05 L327.91,206.43 L328.87,206.79 L329.84,207.15 L330.80,207.50 L331.77,207.85 L332.74,208.19 L333.70,208.52 L334.67,208.84 L335.63,209.16 L336.60,209.47 L337.56,209.77 L338.53,210.07 L339.50,210.36 L340.46,210.65 L341.43,210.93 L342.39,211.20 L343.36,211.47 L344.32,211.73 L345.29,211.99 L346.26,212.24 L347.22,212.48 L348.19,212.72 L349.15,212.95 L350.12,213.18 L351.08,213.41 L352.05,213.62 L353.02,213.84 L353.98,214.04 L354.95,214.25 L355.91,214.45 L356.88,214.64 L357.84,214.83 L358.81,215.01 L359.78,215.20 L360.74,215.37 L361.71,215.54 L362.67,215.71 L363.64,215.88 L364.60,216.03 L365.57,216.19 L366.54,216.34 L367.50,216.49 L368.47,216.64 L369.43,216.78 L370.40,216.91 L371.36,217.05 L372.33,217.18 L373.30,217.31 L374.26,217.43 L375.23,217.55 L376.19,217.67 L377.16,217.78 L378.12,217.90 L379.09,218.00 L380.06,218.11 L381.02,218.21 L381.99,218.31 L382.95,218.41 L383.92,218.51 L384.88,218.60 L385.85,218.69" fill="none" stroke="#00ff00" stroke-width="1.3" stroke-dasharray="2.3 1.0"/>
<text transform="translate(227.90,258.35) scale(1,1.1)" text-anchor="end" font-size="8.0">0</text>
<text transform="translate(233.60,266.35) scale(1,1.075)" text-anchor="middle" font-size="8.0">0</text>
<text transform="translate(227.90,238.38) scale(1,1.1)" text-anchor="end" font-size="8.0">0.2</text>
<text transform="translate(264.31,266.35) scale(1,1.075)" text-anchor="middle" font-size="8.0">0.2</text>
<text transform="translate(227.90,218.01) scale(1,1.1)" text-anchor="end" font-size="8.0">0.4</text>
<text transform="translate(295.02,266.35) scale(1,1.075)" text-anchor="middle" font-size="8.0">0.4</text>
<text transform="translate(227.90,197.64) scale(1,1.1)" text-anchor="end" font-size="8.0">0.6</text>
<text transform="translate(325.73,266.35) scale(1,1.075)" text-anchor="middle" font-size="8.0">0.6</text>
<text transform="translate(227.90,177.26) scale(1,1.1)" text-anchor="end" font-size="8.0">0.8</text>
<text transform="translate(356.44,266.35) scale(1,1.075)" text-anchor="middle" font-size="8.0">0.8</text>
<path d="M226.25,156.14 L226.25,150.44 L225.55,150.44 Q225.10,151.44 223.95,151.79 L223.95,152.49 Q224.90,152.24 225.40,151.64 L225.40,156.14 Z" fill="#000"/>
<path d="M387.55,266.35 L387.55,260.35 L386.85,260.35 Q386.40,261.35 385.25,261.70 L385.25,262.40 Q386.20,262.15 386.70,261.55 L386.70,266.35 Z" fill="#000"/>
<text transform="translate(211.40,202.33) rotate(-90) scale(1,1.1)" text-anchor="middle" font-size="10.6">Fidelity</text>
<text transform="translate(308.98,278.95) scale(1,1.06)" text-anchor="middle" font-size="11.0">t (<tspan font-family="Liberation Serif" font-size="11.5">&#964;</tspan>)</text>
<text transform="translate(386.15,146.75) scale(1,1.0)" text-anchor="start" font-size="11.0">(d)</text>
</svg>
</body></html>
